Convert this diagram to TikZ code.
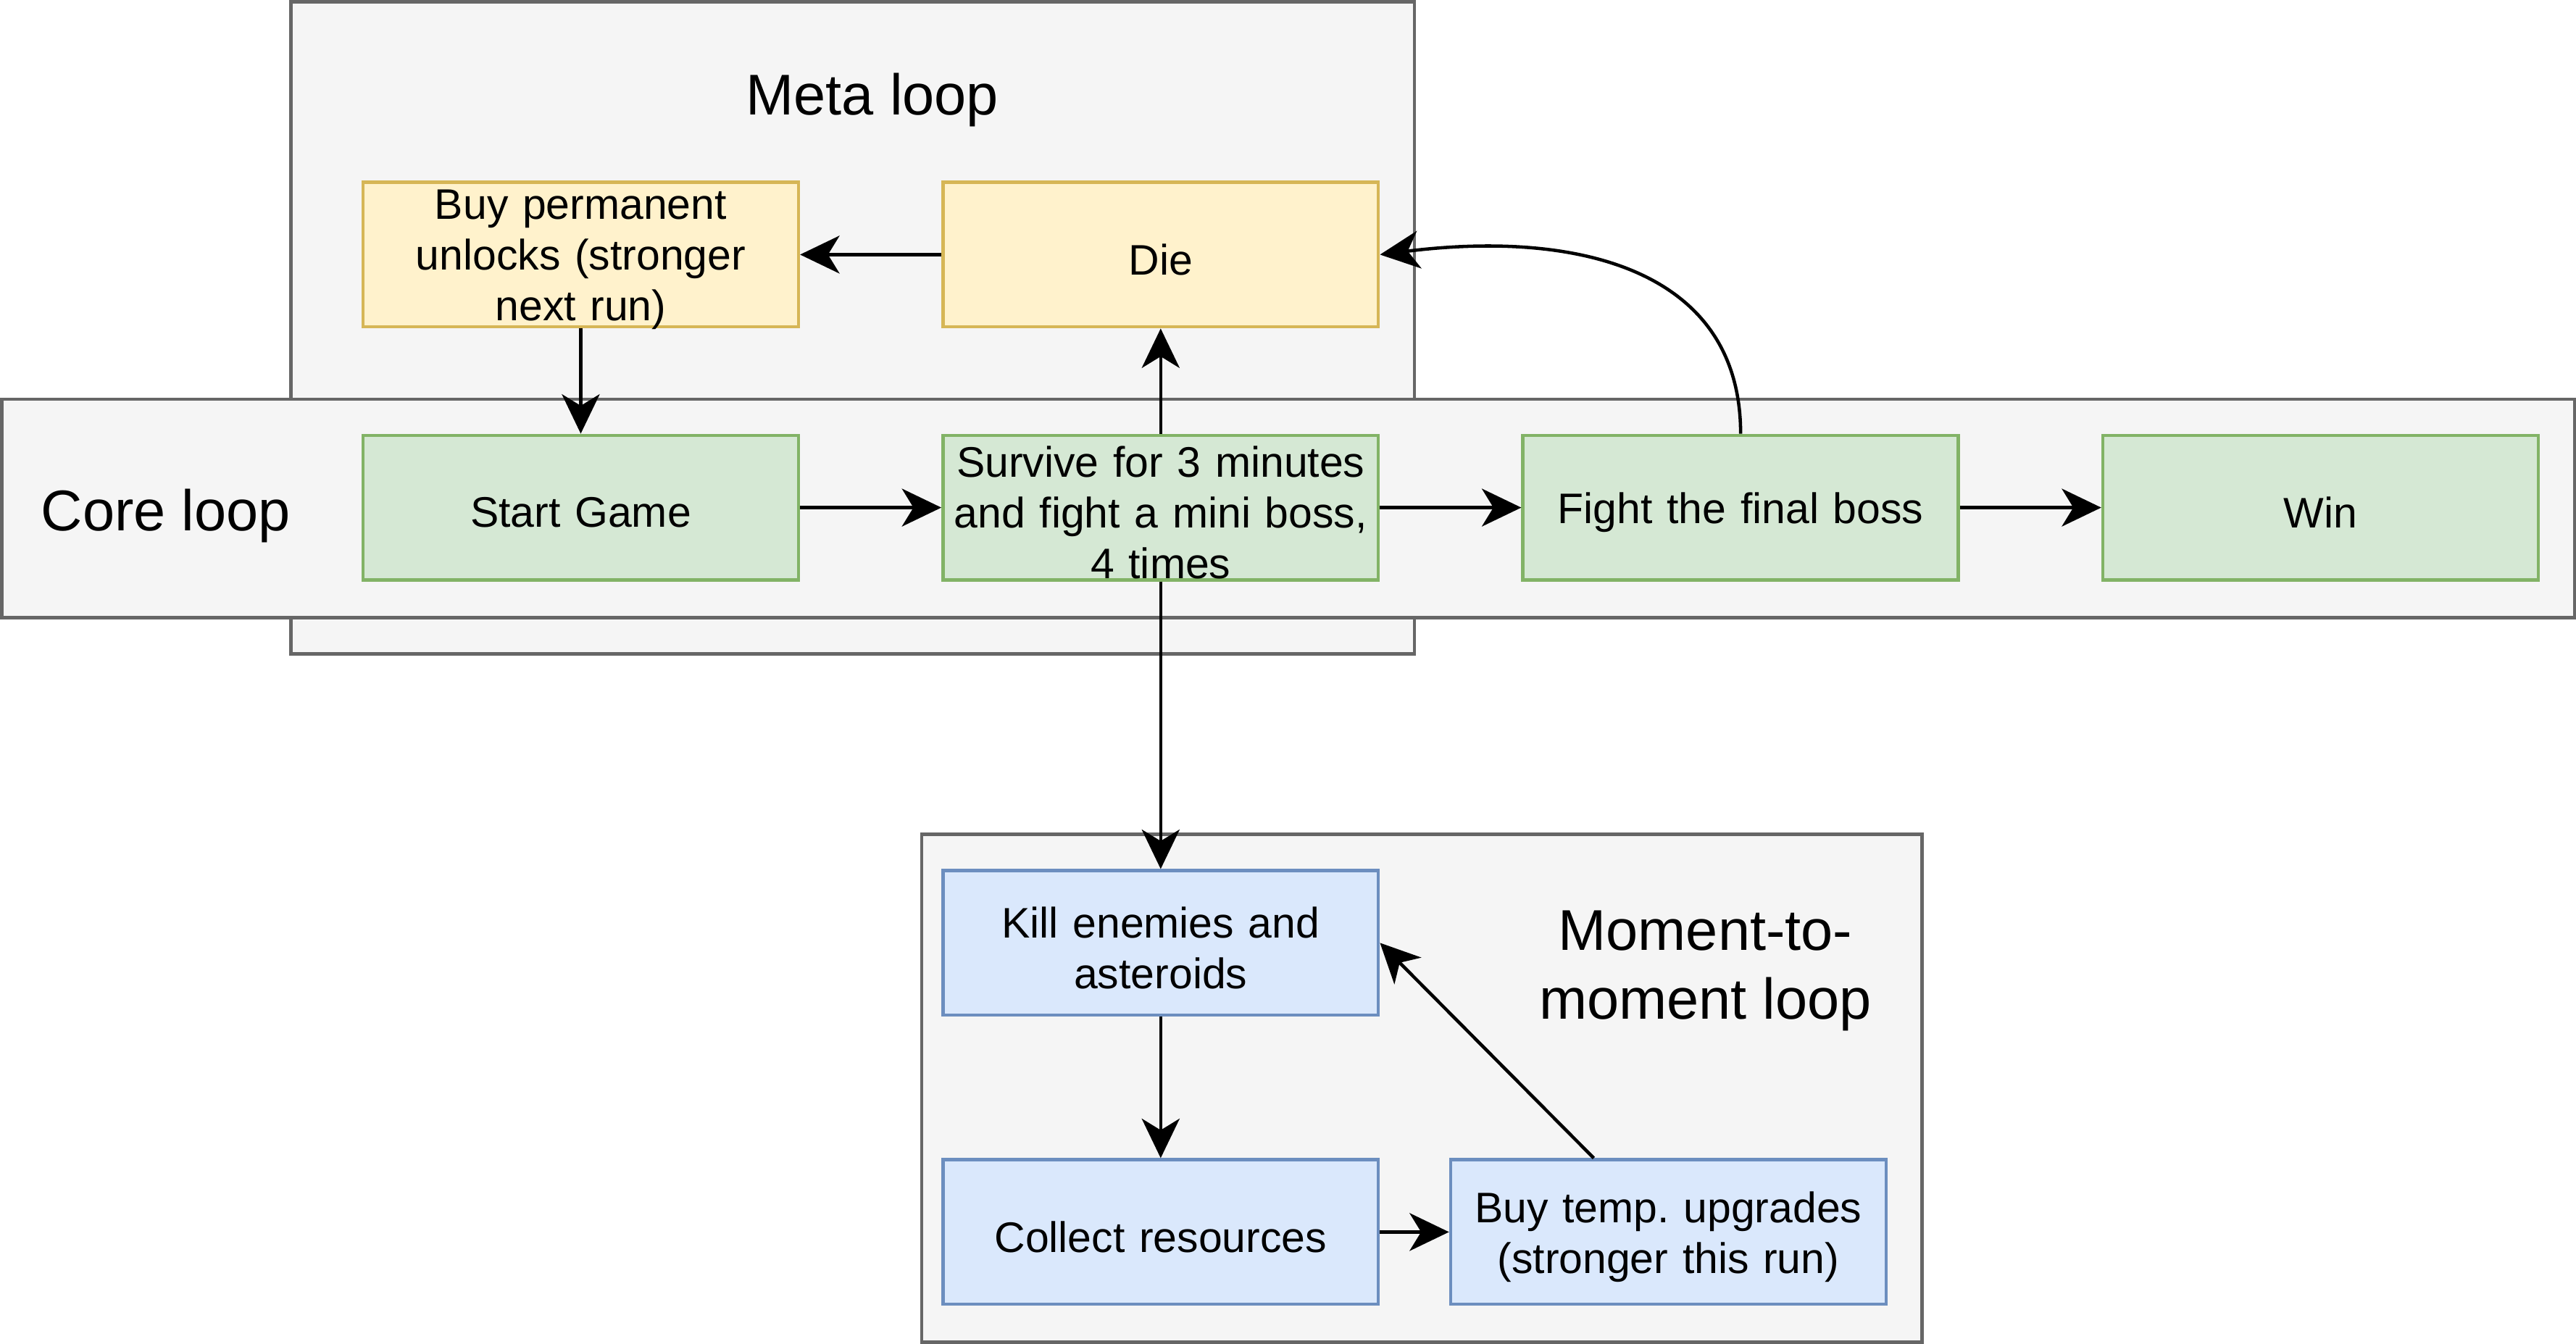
\documentclass[tikz,border=0pt]{standalone}
\usepackage{fontspec}
\setmainfont{Liberation Sans}
\frenchspacing
\usetikzlibrary{arrows.meta,calc}
\definecolor{contfill}{HTML}{F5F5F5}
\definecolor{contdraw}{HTML}{666666}
\definecolor{yfill}{HTML}{FFF2CC}
\definecolor{ydraw}{HTML}{D6B656}
\definecolor{gfill}{HTML}{D5E8D4}
\definecolor{gdraw}{HTML}{82B366}
\definecolor{bfill}{HTML}{DAE8FC}
\definecolor{bdraw}{HTML}{6C8EBF}
\tikzset{
  container/.style={draw=contdraw, fill=contfill, line width=2pt, rectangle, inner sep=0pt},
  box/.style={rectangle, line width=2pt, minimum width=265pt, minimum height=88pt, inner sep=0pt},
  txt/.style={inner sep=0pt, text width=264pt, align=center, font=\fontsize{26}{31}\selectfont, yshift=-3pt},
  ybox/.style={box, draw=ydraw, fill=yfill},
  gbox/.style={box, draw=gdraw, fill=gfill},
  bbox/.style={box, draw=bdraw, fill=bfill},
  title/.style={align=center, inner sep=0pt, font=\fontsize{35}{42}\selectfont},
  edge/.style={line width=2pt, -{Stealth[length=24pt, width=23pt, inset=7pt]}}
}
\begin{document}
\begin{tikzpicture}[x=1pt, y=-1pt]
\useasboundingbox (0,0) rectangle (1568,818);
% containers
\node[container, minimum width=684pt, minimum height=397pt] (meta) at (519,199.5) {};
\node[container, minimum width=1566pt, minimum height=133pt] (core) at (784,309.5) {};
\node[container, minimum width=609pt, minimum height=309pt] (moment) at (865.5,662.5) {};
% titles
\node[title] (metat) at (531,61) {Meta loop};
\node[title] (coret) at (101,314) {Core loop};
\node[title] (momt) at (1038,591) {Moment-to-\\moment loop};
% boxes
\node[ybox] (buyp) at (353.5,155) {};
\node[ybox] (die) at (706.5,155) {};
\node[gbox] (start) at (353.5,309) {};
\node[gbox] (surv) at (706.5,309) {};
\node[gbox] (fight) at (1059.5,309) {};
\node[gbox] (win) at (1412.5,309) {};
\node[bbox] (kill) at (706.5,574) {};
\node[bbox] (coll) at (706.5,750) {};
\node[bbox] (buyt) at (1015.5,750) {};
% box texts
\node[txt] (buyp-t) at (buyp) {Buy permanent\\unlocks (stronger\\next run)};
\node[txt] (die-t) at (die) {Die};
\node[txt] (start-t) at (start) {Start Game};
\node[txt] (surv-t) at (surv) {Survive for 3 minutes\\and fight a mini boss,\\4 times};
\node[txt] (fight-t) at (fight) {Fight the final boss};
\node[txt] (win-t) at (win) {Win};
\node[txt] (kill-t) at (kill) {Kill enemies and\\asteroids};
\node[txt] (coll-t) at (coll) {Collect resources};
\node[txt] (buyt-t) at (buyt) {Buy temp. upgrades\\(stronger this run)};
% edges
\draw[edge] (die.west) -- (buyp.east);
\draw[edge] (buyp.south) -- (start.north);
\draw[edge] (start.east) -- (surv.west);
\draw[edge] (surv.north) -- (die.south);
\draw[edge] (surv.east) -- (fight.west);
\draw[edge] (fight.east) -- (win.west);
\draw[edge] (fight.north) .. controls ($(fight.north)+(0,-100)$) and ($(die.east)+(120,-15)$) .. (die.east);
\draw[edge] (surv.south) -- (kill.north);
\draw[edge] (kill.south) -- (coll.north);
\draw[edge] (coll.east) -- (buyt.west);
\coordinate (bts) at ($(buyt.north west)!0.33!(buyt.north east)$);
\draw[edge] (bts) -- (kill.east);
\end{tikzpicture}
\end{document}
